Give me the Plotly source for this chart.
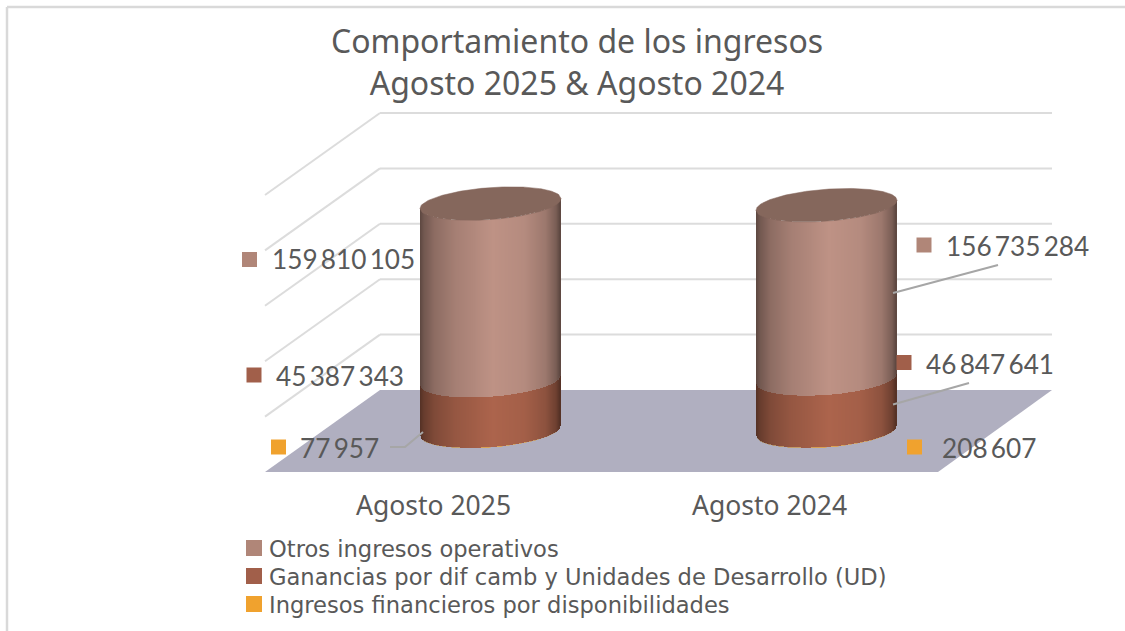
import plotly.graph_objects as go

# ---- data ----
categories = ["Agosto 2025", "Agosto 2024"]
otros = [159810105, 156735284]
ganancias = [45387343, 46847641]
financieros = [77957, 208607]
grid_values = [0, 50e6, 100e6, 150e6, 200e6, 250e6]
series_names = ["Otros ingresos operativos",
                "Ganancias por dif camb y Unidades de Desarrollo (UD)",
                "Ingresos financieros por disponibilidades"]
title_text = "Comportamiento de los ingresos<br>Agosto 2025 & Agosto 2024"

# ---- style / layout ----
W, H = 1125, 631
TXT = "#595959"
C_OTROS, C_GAN, C_FIN = "#b08678", "#a15f4a", "#f0a22e"
BODY_OTROS, BODY_GAN, BODY_FIN = (190, 146, 133), (172, 100, 76), (240, 162, 46)
TOP_CAP = "#85675c"
PX_PER_UNIT_X = 336.0     # pixels between categories
X0_PX = 490.5             # pixel of first category
PX_PER_VAL = 55.4 / 50e6  # pixels per currency unit
BASE_PX = 431.0           # pixel row of value 0 at cylinder depth
R_PX = 70.5               # cylinder radius
ELL_B, ELL_S = 16.0, 5.0  # ellipse half height and skew
BACK_OFF = 41.0           # back wall sits above cylinder baseline
DX_DEPTH, DY_DEPTH = 115.0, 82.0  # depth vector of the side wall


def xd(px):
    return (px - X0_PX) / PX_PER_UNIT_X


def yd(py):
    return (BASE_PX - py) / PX_PER_VAL


def dy_px(p):
    return -p / PX_PER_VAL


KNOTS = [(-1, .50), (-.95, .60), (-.8, .74), (-.5, .87), (.05, 1.0), (.5, .95), (.8, .82), (.95, .64), (1, .50)]


def shade(t, rgb):
    for (a, fa), (b, fb) in zip(KNOTS, KNOTS[1:]):
        if a <= t <= b:
            f = fa + (fb - fa) * (t - a) / (b - a)
            break
    return "rgb(%d,%d,%d)" % tuple(round(c * f) for c in rgb)


def front_offset(t):
    return -ELL_S * t + ELL_B * (1 - t * t) ** 0.5


fig = go.Figure()

# cylinder bodies: narrow bars stacked from the series values
steps = [i / 70.0 for i in range(-70, 71)]


def strips(values, bottoms, rgb, name, opacity=1.0):
    xs, ys, bases, cols = [], [], [], []
    for c in range(len(categories)):
        for t in steps:
            xs.append(c + t * (R_PX - 1) / PX_PER_UNIT_X)
            ys.append(values[c])
            bases.append(bottoms[c] + dy_px(front_offset(t)))
            cols.append(shade(t, rgb))
    fig.add_trace(go.Bar(x=xs, y=ys, base=bases, width=2.2 / PX_PER_UNIT_X,
                         marker=dict(color=cols, line=dict(width=0), opacity=opacity),
                         name=name, showlegend=False, hoverinfo="skip"))


zero = [0, 0]
b_gan = [financieros[i] for i in range(2)]
b_otros = [financieros[i] + ganancias[i] for i in range(2)]
totals = [financieros[i] + ganancias[i] + otros[i] for i in range(2)]
strips(financieros, zero, BODY_FIN, series_names[2], 0.35)
strips(ganancias, b_gan, BODY_GAN, series_names[1])
strips(otros, b_otros, BODY_OTROS, series_names[0])

# top caps
for c in range(2):
    ts = [i / 60.0 for i in range(-60, 61)]
    ex = [c + t * R_PX / PX_PER_UNIT_X for t in ts] + [c + t * R_PX / PX_PER_UNIT_X for t in reversed(ts)]
    ey = [totals[c] + dy_px(front_offset(t)) for t in ts] + \
         [totals[c] + dy_px(-ELL_S * t - ELL_B * (1 - t * t) ** 0.5) for t in reversed(ts)]
    fig.add_trace(go.Scatter(x=ex, y=ey, mode="lines", fill="toself", fillcolor=TOP_CAP,
                             line=dict(width=0.5, color=TOP_CAP), showlegend=False, hoverinfo="skip"))

shapes = []
# floor
fx = [265, 938, 1052, 380]
fy = [472, 472, 390, 390]
path = "M " + " L ".join(f"{xd(a)},{yd(b)}" for a, b in zip(fx, fy)) + " Z"
shapes.append(dict(type="path", path=path, xref="x", yref="y", fillcolor="#b0afc0", line=dict(width=0), layer="below"))
# walls
back_left, back_right = 380, 1052
for v in grid_values[1:]:
    yb = v + dy_px(-BACK_OFF)
    grid_line = dict(color="#dcdcdc", width=2)
    shapes.append(dict(type="line", xref="x", yref="y", x0=xd(back_left), x1=xd(back_right), y0=yb, y1=yb,
                       line=grid_line, layer="below"))
    shapes.append(dict(type="line", xref="x", yref="y", x0=xd(back_left), x1=xd(back_left - DX_DEPTH), y0=yb,
                       y1=yb + dy_px(DY_DEPTH), line=grid_line, layer="below"))
# frame
for x0, y0, x1, y1 in [(7, 7, W, 7), (7, 7, 7, H)]:
    shapes.append(dict(type="line", xref="paper", yref="paper", x0=x0 / W, x1=x1 / W, y0=1 - y0 / H, y1=1 - y1 / H,
                       line=dict(color="#d9d9d9", width=2.5), layer="below"))
# leaders
for pts in [[(423, 432), (405, 447), (390, 447)], [(893, 293), (998, 265)], [(893, 404.5), (969, 383)]]:
    p = "M " + " L ".join(f"{xd(a)},{yd(b)}" for a, b in pts)
    shapes.append(dict(type="path", path=p, xref="x", yref="y", line=dict(color="#a6a6a6", width=2), layer="above"))

# data labels: (value, colour, swatch px, text-left px)
labels = [
    (otros[0], C_OTROS, (249.5, 259.5), 270, 259),
    (ganancias[0], C_GAN, (254, 375), 274, 376),
    (financieros[0], C_FIN, (278.5, 447), 298, 448),
    (otros[1], C_OTROS, (924, 245), 944, 246),
    (ganancias[1], C_GAN, (904, 362.5), 924, 364),
    (financieros[1], C_FIN, (914.5, 447), 940, 448),
]
anns = []
for val, col, (sx, sy), tx, ty in labels:
    fig.add_trace(go.Scatter(x=[xd(sx)], y=[yd(sy)], mode="markers", showlegend=False, hoverinfo="skip",
                             marker=dict(symbol="square", size=15, color=col)))
    anns.append(dict(x=xd(tx), y=yd(ty), xref="x", yref="y", text=f"{val:,}".replace(",", "\u2009"), showarrow=False,
                     xanchor="left", yanchor="middle", font=dict(family="Lato", size=26.2, color=TXT)))

# legend rows
for i, (nm, col) in enumerate(zip(series_names, [C_OTROS, C_GAN, C_FIN])):
    row = 548 + 28 * i
    fig.add_trace(go.Scatter(x=[xd(254)], y=[yd(row)], mode="markers", showlegend=False, hoverinfo="skip",
                             marker=dict(symbol="square", size=16, color=col)))
    anns.append(dict(x=xd(267), y=yd(row + 1), xref="x", yref="y", text=nm, showarrow=False,
                     xanchor="left", yanchor="middle", font=dict(family="DejaVu Sans", size=22.6, color=TXT)))

fig.update_layout(
    width=W, height=H, margin=dict(l=0, r=0, t=0, b=0),
    paper_bgcolor="white", plot_bgcolor="white", barmode="overlay", bargap=0, showlegend=False,
    title=dict(text=title_text, x=577 / W, xanchor="center", y=1 - 53 / H, yanchor="middle",
               font=dict(family="Noto Sans", size=32, color=TXT)),
    xaxis=dict(range=[xd(0), xd(W)], showgrid=False, zeroline=False, showline=False,
               tickmode="array", tickvals=[i - 57 / PX_PER_UNIT_X for i in range(2)], ticktext=categories,
               ticks="", tickfont=dict(family="Noto Sans", size=26.5, color=TXT),
               anchor="free", position=1 - 487 / H),
    yaxis=dict(range=[yd(H), yd(0)], visible=False),
    shapes=shapes, annotations=anns,
)
fig.write_html("out.html", post_script="document.body.style.margin='0';", config=dict(displayModeBar=False))
